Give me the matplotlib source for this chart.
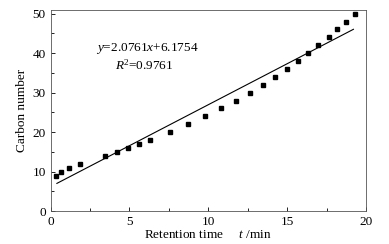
import matplotlib
matplotlib.use("Agg")
import matplotlib.pyplot as plt
import numpy as np
from matplotlib.ticker import MultipleLocator

retention_time = [0.34, 0.65, 1.19, 1.89, 3.46, 4.20, 4.94, 5.63, 6.33, 7.58, 8.70,
                  9.78, 10.78, 11.74, 12.63, 13.46, 14.24, 14.99, 15.67, 16.34, 16.98,
                  17.62, 18.19, 18.76, 19.29]
carbon_number = [9, 10, 11, 12, 14, 15, 16, 17, 18, 20, 22,
                 24, 26, 28, 30, 32, 34, 36, 38, 40, 42,
                 44, 46, 48, 50]
slope = 2.0761
intercept = 6.1754
r2 = 0.9761

plt.rcParams['font.family'] = ['Liberation Serif', 'DejaVu Serif']
plt.rcParams['mathtext.fontset'] = 'custom'
plt.rcParams['mathtext.rm'] = 'Liberation Serif'
plt.rcParams['mathtext.it'] = 'Liberation Serif:italic'

fig = plt.figure(figsize=(3.89, 2.44), dpi=100)
ax = fig.add_axes([0.130, 0.135, 0.811, 0.822])

ax.plot(retention_time, carbon_number, 's', color='black', markersize=3.5)
xl = np.array([0.4, 19.2])
ax.plot(xl, slope * xl + intercept, color='black', linewidth=0.8)

ax.text(0.305, 0.812, r'$y$=2.0761$x$+6.1754', transform=ax.transAxes,
        ha='center', va='center', fontsize=9.5)
ax.text(0.296, 0.728, r'$R$$^2$=0.9761', transform=ax.transAxes,
        ha='center', va='center', fontsize=9.5)

ax.set_xlim(0, 20)
ax.set_ylim(0, 50.8)
ax.xaxis.set_major_locator(MultipleLocator(5))
ax.xaxis.set_minor_locator(MultipleLocator(2.5))
ax.yaxis.set_major_locator(MultipleLocator(10))
ax.yaxis.set_minor_locator(MultipleLocator(5))
ax.tick_params(which='both', direction='in', labelsize=9.5, width=0.6)
ax.tick_params(which='major', length=3)
ax.tick_params(which='minor', length=2)
for s in ax.spines.values():
    s.set_linewidth(0.6)
    s.set_color('#555555')

ax.set_xlabel(r'Retention time     $t$ /min', fontsize=9.5, labelpad=1)
ax.set_ylabel('Carbon number', fontsize=9.5, labelpad=3)

fig.savefig('out.png', dpi=100)
